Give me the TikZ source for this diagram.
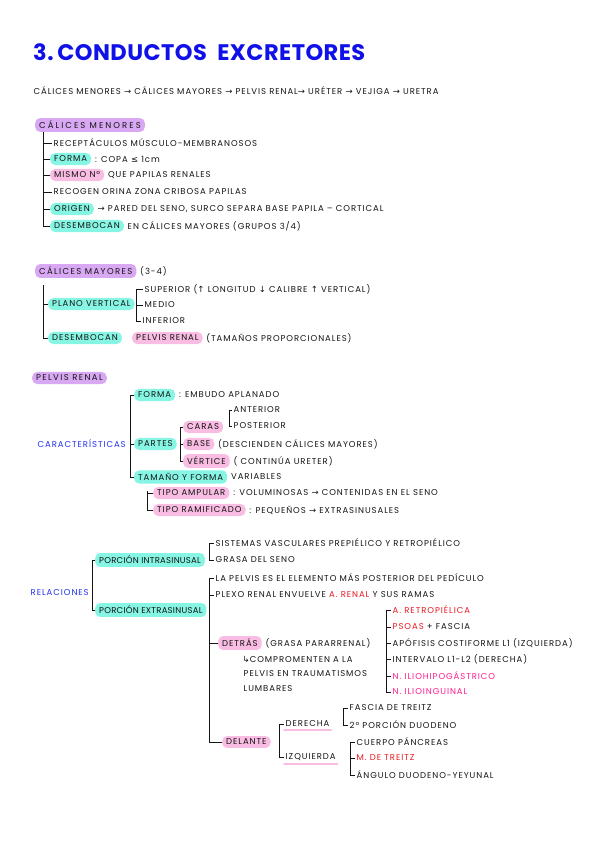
\documentclass[tikz,border=0pt]{standalone}
\usepackage{fontspec}
\setmainfont{Poppins}
\newfontfamily\symf{DejaVu Sans}
\usetikzlibrary{positioning}
\definecolor{ink}{HTML}{141414}
\definecolor{lav}{HTML}{D9A8F3}
\definecolor{aqua}{HTML}{86F5E3}
\definecolor{pinkh}{HTML}{F9BCE2}
\definecolor{titleb}{HTML}{1010E8}
\definecolor{labb}{HTML}{2030F0}
\definecolor{redt}{HTML}{E81820}
\definecolor{mag}{HTML}{FF1C8E}
\newcommand{\bodyf}{\fontsize{8.5}{10}\selectfont\addfontfeatures{LetterSpace=11}}
\newcommand{\arr}{{\symf →}}
\newcommand{\upa}{{\symf ↑}}
\newcommand{\dna}{{\symf ↓}}
\tikzset{
  t/.style={anchor=west, inner xsep=1.5pt, inner ysep=0pt, font=\bodyf, text=ink},
  hl/.style={t, rounded corners=5pt, inner xsep=4pt, inner ysep=3pt},
  hp/.style={hl, fill=lav},
  hc/.style={hl, fill=aqua},
  hk/.style={hl, fill=pinkh},
  narrow/.style={font=\bodyf\addfontfeatures{LetterSpace=3}},
  wide/.style={font=\bodyf\addfontfeatures{LetterSpace=#1}},
  after/.style={t, right=2pt of #1},
  br/.style={line width=0.9pt, draw=ink},
  uline/.style={line width=2pt, draw=pinkh, line cap=round},
}
\begin{document}
\begin{tikzpicture}[x=1pt,y=-1pt]
\useasboundingbox (0,0) rectangle (599,848);
% title
\node[anchor=west, inner sep=0pt, text=titleb, font=\fontsize{22.5}{26}\selectfont\bfseries\addfontfeatures{LetterSpace=2}] (title) at (33,52) {3.\,CONDUCTOS\ \ EXCRETORES};
\node[t] (chain) at (32,91) {CÁLICES MENORES \arr\ CÁLICES MAYORES \arr\ PELVIS RENAL\arr\ URÉTER \arr\ VEJIGA \arr\ URETRA};

% ---------- section 1
\node[hp, wide=24] (cm) at (35,125) {CÁLICES MENORES};
\coordinate (b1) at (43,132);
\node[t] (m1) at (52,143) {RECEPTÁCULOS MÚSCULO-MEMBRANOSOS};
\node[hc] (m2) at (50,159) {FORMA};
\node[after=m2] (m2t) {: COPA {\symf ≤} 1cm};
\node[hk] (m3) at (50,175) {MISMO Nº};
\node[after=m3] (m3t) {QUE PAPILAS RENALES};
\node[t] (m4) at (52,192) {RECOGEN ORINA ZONA CRIBOSA PAPILAS};
\node[hc] (m5) at (50,209) {ORIGEN};
\node[after=m5] (m5t) {\arr\ PARED DEL SENO, SURCO SEPARA BASE PAPILA – CORTICAL};
\node[hc] (m6) at (50,226) {DESEMBOCAN};
\node[after=m6] (m6t) {EN CÁLICES MAYORES (GRUPOS 3/4)};
\draw[br] (b1) |- (m1.west) (b1) |- (m2.west) (b1) |- (m3.west) (b1) |- (m4.west) (b1) |- (m5.west) (b1) |- (m6.west);

% ---------- section 2
\node[hp, wide=16] (cM) at (35,271) {CÁLICES MAYORES};
\node[after=cM] (cMt) {(3-4)};
\coordinate (b2) at (43,285);
\node[hc] (pv) at (48,304) {PLANO VERTICAL};
\node[hc] (de) at (48,338) {DESEMBOCAN};
\node[hk, right=10pt of de] (de2) {PELVIS RENAL};
\node[after=de2] (de3) {(TAMAÑOS PROPORCIONALES)};
\draw[br] (b2) |- (pv.west) (b2) |- (de.west);
\coordinate (b3) at (136,289);
\node[t] (s1) at (143,289) {SUPERIOR (\upa\ LONGITUD \dna\ CALIBRE \upa\ VERTICAL)};
\node[t] (s2) at (143,305) {MEDIO};
\node[t] (s3) at (141,321) {INFERIOR};
\draw[br] (b3) |- (s1.west) (b3) |- (s2.west) (b3) |- (s3.west);

% ---------- section 3
\node[hp, wide=16] (pr) at (32,378) {PELVIS RENAL};
\node[t, text=labb] (car) at (36,444) {CARACTERÍSTICAS};
\coordinate (b4) at (130,395);
\node[hc] (fo) at (134,395) {FORMA};
\node[after=fo] (fot) {: EMBUDO APLANADO};
\node[hc] (pa) at (134,444) {PARTES};
\node[hc] (ta) at (134,477) {TAMAÑO Y FORMA};
\node[after=ta] (tat) {VARIABLES};
\draw[br] (b4) |- (fo.west) (b4) |- (pa.west) (b4) |- (ta.west);
\coordinate (b5) at (180,427);
\node[hk] (ca) at (183,427) {CARAS};
\node[hk] (ba) at (183,444) {BASE};
\node[after=ba] (bat) {(DESCIENDEN CÁLICES MAYORES)};
\node[hk] (ve) at (183,461) {VÉRTICE};
\node[after=ve] (vet) {( CONTINÚA URETER)};
\draw[br] (b5) |- (ca.west) (b5) |- (ba.west) (b5) |- (ve.west);
\coordinate (b6) at (229,410);
\node[t] (an) at (232,410) {ANTERIOR};
\node[t] (po) at (232,426) {POSTERIOR};
\draw[br] (b6) |- (an.west) (b6) |- (po.west);
\coordinate (b7) at (147,491);
\node[hk] (tp1) at (153,493) {TIPO AMPULAR};
\node[after=tp1] (tp1t) {: VOLUMINOSAS \arr\ CONTENIDAS EN EL SENO};
\node[hk] (tp2) at (153,510) {TIPO RAMIFICADO};
\node[after=tp2] (tp2t) {: PEQUEÑOS \arr\ EXTRASINUSALES};
\draw[br] (b7) |- (tp1.west) (b7) |- (tp2.west);

% ---------- section 4
\node[t, text=labb] (rel) at (29,593) {RELACIONES};
\coordinate (b8) at (92,562);
\node[hc, narrow] (in) at (95,560) {PORCIÓN INTRASINUSAL};
\node[hc, narrow] (ex) at (95,610) {PORCIÓN EXTRASINUSAL};
\draw[br] (b8) |- (in.west) (b8) |- (ex.west);
\coordinate (b9) at (209,544);
\node[t] (in1) at (214,543) {SISTEMAS VASCULARES PREPIÉLICO Y RETROPIÉLICO};
\node[t] (in2) at (214,560) {GRASA DEL SENO};
\draw[br] (b9) |- (in1.west) (b9) |- (in2.west);
\coordinate (b10) at (209,579);
\node[t] (ex1) at (214,578) {LA PELVIS ES EL ELEMENTO MÁS POSTERIOR DEL PEDÍCULO};
\node[t] (ex2) at (214,595) {PLEXO RENAL ENVUELVE \textcolor{redt}{A. RENAL} Y SUS RAMAS};
\node[hk] (dt) at (218,643) {DETRÁS};
\node[after=dt] (dtt) {(GRASA PARARRENAL)};
\node[t] (dn1) at (241,659) {{\symf ↳}COMPROMENTEN A LA};
\node[t] (dn2) at (242,674) {PELVIS EN TRAUMATISMOS};
\node[t] (dn3) at (242,689) {LUMBARES};
\node[hk] (dl) at (222,742) {DELANTE};
\draw[br] (b10) |- (ex1.west) (b10) |- (ex2.west) (b10) |- (dt.west) (b10) |- (dl.west);
\coordinate (b11) at (386,610);
\node[t] (d1) at (391,610) {\textcolor{redt}{A. RETROPIÉLICA}};
\node[t] (d2) at (391,627) {\textcolor{redt}{PSOAS} + FASCIA};
\node[t] (d3) at (391,643) {APÓFISIS COSTIFORME L1 (IZQUIERDA)};
\node[t] (d4) at (391,659) {INTERVALO L1-L2 (DERECHA)};
\node[t] (d5) at (391,676) {\textcolor{mag}{N. ILIOHIPOGÁSTRICO}};
\node[t] (d6) at (391,692) {\textcolor{mag}{N. ILIOINGUINAL}};
\draw[br] (b11) |- (d1.west) (b11) |- (d2.west) (b11) |- (d3.west) (b11) |- (d4.west) (b11) |- (d5.west) (b11) |- (d6.west);
\coordinate (b12) at (279,727);
\node[t] (der) at (284,724) {DERECHA};
\node[t] (izq) at (284,757) {IZQUIERDA};
\draw[uline] ([yshift=-3pt]der.south west) -- ([yshift=-3pt]der.south east);
\draw[uline] ([yshift=-3pt]izq.south west) -- ([yshift=-3pt]izq.south east);
\draw[br] (b12) |- (der.west) (b12) |- (izq.west);
\coordinate (b13) at (343,708);
\node[t] (r1) at (348,708) {FASCIA DE TREITZ};
\node[t] (r2) at (348,725) {2º PORCIÓN DUODENO};
\draw[br] (b13) |- (r1.west) (b13) |- (r2.west);
\coordinate (b14) at (350,745);
\node[t] (l1) at (355,742) {CUERPO PÁNCREAS};
\node[t, text=redt] (l2) at (355,758) {M. DE TREITZ};
\node[t] (l3) at (355,775) {ÁNGULO DUODENO-YEYUNAL};
\draw[br] (b14) |- (l1.west) (b14) |- (l2.west) (b14) |- (l3.west);
\end{tikzpicture}
\end{document}
